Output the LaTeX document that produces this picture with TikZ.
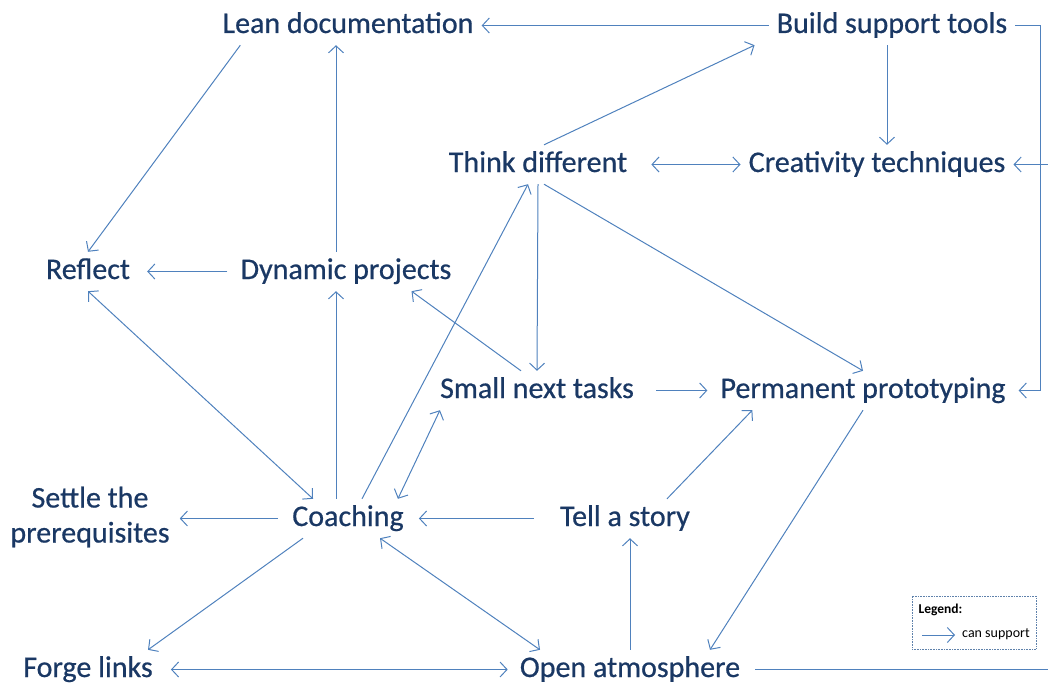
\documentclass[tikz,border=0pt]{standalone}
\usepackage{fontspec}
\setmainfont{Carlito}
\newfontfamily\nodefont{Carlito}[FakeBold=0.6]
\usepackage{tikz}
\usetikzlibrary{arrows.meta}
\definecolor{tc}{RGB}{26, 56, 100}
\definecolor{lc}{RGB}{79, 129, 189}
\begin{document}
\begin{tikzpicture}[
  box/.style={inner xsep=8pt, inner ysep=5pt, text=tc, font=\nodefont\fontsize{30}{35}\selectfont, text height=22pt, text depth=7pt},
  twoline/.style={inner xsep=8pt, inner ysep=5pt, text=tc, font=\nodefont\fontsize{30}{35}\selectfont, align=center},
  conn/.style={draw=lc, line width=1pt, -{Straight Barb[length=7pt,width=15pt]}},
  both/.style={draw=lc, line width=1pt, {Straight Barb[length=7pt,width=15pt]}-{Straight Barb[length=7pt,width=15pt]}},
  legfont/.style={text=black, font=\fontsize{14}{16}\selectfont}]
\useasboundingbox (0pt, 0pt) rectangle (1048pt, -682pt);
\node (lean) [box] at (348pt, -25.5pt) {Lean documentation};
\node (build) [box] at (892pt, -25.5pt) {Build support tools};
\node (think) [box] at (538pt, -164.5pt) {Think different};
\node (crea) [box] at (877pt, -164.5pt) {Creativity techniques};
\node (reflect) [box] at (88pt, -271.5pt) {Reflect};
\node (dyn) [box] at (346pt, -271.5pt) {Dynamic projects};
\node (small) [box] at (537pt, -390.5pt) {Small next tasks};
\node (perm) [box] at (863pt, -390.5pt) {Permanent prototyping};
\node (settle) [twoline] at (90pt, -517pt) {Settle the\\prerequisites};
\node (coach) [box] at (348pt, -518.5pt) {Coaching};
\node (story) [box] at (625pt, -518.5pt) {Tell a story};
\node (forge) [box] at (88pt, -669.5pt) {Forge links};
\node (open) [box] at (630pt, -669.5pt) {Open atmosphere};
% legend
\node (legend) [draw=lc!70!gray, densely dotted, line width=0.6pt, minimum width=124pt, minimum height=53pt] at (974pt, -622.5pt) {};
\node (legtitle) [legfont, anchor=west, font=\fontsize{13.5}{16}\selectfont\bfseries] at (915pt, -610pt) {Legend:};
\node (legtext) [legfont, anchor=west, inner xsep=2pt] at (960pt, -634pt) {can support};
\coordinate (legstart) at (922pt, -635pt);
\draw [conn] (legstart) -- ([xshift=-5pt]legtext.west |- legstart);
% connectors
\draw [conn] (build.west) -- (lean.east);
\draw [conn] ([xshift=-5pt]build.south) -- ([xshift=-5pt]build.south |- crea.north);
\draw [conn] ([xshift=6pt]think.north) -- ([xshift=-14pt]build.south west);
\draw [both] ([xshift=16pt]think.east) -- (crea.west);
\draw [conn] ([xshift=26pt]lean.south west) -- (reflect.north);
\draw [conn] ([xshift=-10pt]dyn.north) -- ([xshift=-10pt]dyn.north |- lean.south);
\draw [conn] ([xshift=-5pt]dyn.west) -- ([xshift=9pt]reflect.east);
\draw [conn] (think.south) -- (small.north);
\draw [conn] ([xshift=6pt]think.south) -- (perm.north);
\draw [conn] ([xshift=-16pt]small.north) -- ([xshift=-48pt]dyn.south east);
\draw [conn] ([xshift=14pt]coach.north) -- ([xshift=-10pt]think.south);
\draw [both] ([xshift=-14pt]coach.north east) -- ([xshift=8pt]small.south west);
\draw [conn] ([xshift=-12pt]coach.north) -- ([xshift=-12pt]coach.north |- dyn.south);
\draw [both] (reflect.south) -- ([xshift=-35pt]coach.north);
\draw [conn] ([xshift=14pt]small.east) -- ([xshift=-5pt]perm.west);
\draw [conn] ([xshift=42pt]story.north) -- ([xshift=40pt]perm.south west);
\draw [conn] ([xshift=-18pt]story.west) -- ([xshift=7pt]coach.east);
\draw [conn] ([xshift=-6pt]coach.west) -- ([xshift=2pt]coach.west -| settle.east);
\draw [conn] ([xshift=-45pt]coach.south) -- ([xshift=60pt]forge.north);
\draw [both] ([xshift=32pt]coach.south) -- ([xshift=-90pt]open.north);
\draw [conn] (open.north) -- (open.north |- story.south);
\draw [conn] (perm.south) -- ([xshift=80pt]open.north);
\draw [both] ([xshift=10pt]forge.east) -- ([xshift=-4pt]open.west);
\draw [conn] (build.east) -- ([xshift=25pt]build.east) |- ([xshift=5pt]perm.east);
\draw [conn] ([xshift=7pt]open.east) -- ([xshift=320pt]open.east) |- (crea.east);
\end{tikzpicture}
\end{document}
